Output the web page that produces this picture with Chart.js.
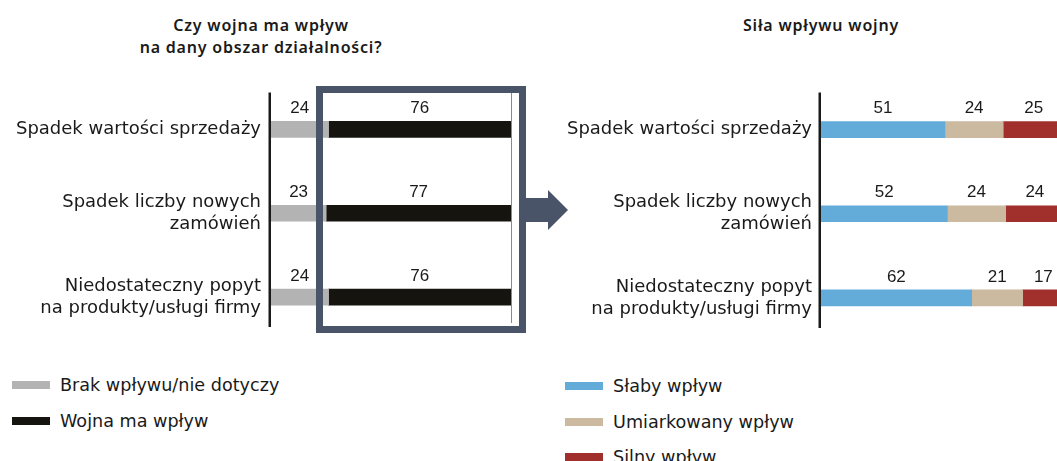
<!DOCTYPE html>
<html>
<head>
<meta charset="utf-8">
<script src="https://cdn.jsdelivr.net/npm/chart.js@4.4.1/dist/chart.umd.min.js"></script>
<style>
  html, body { margin:0; padding:0; background:#fff; }
  #wrap { position:relative; width:1057px; height:461px; overflow:hidden; font-family:"Noto Sans", sans-serif; color:#1a1a1a; }
  canvas { position:absolute; }
  .title { position:absolute; font-size:16px; font-weight:600; letter-spacing:0.8px; text-align:center; line-height:22px; white-space:nowrap; }
  .legend { position:absolute; font-family:"DejaVu Sans", sans-serif; font-size:17.6px; }
  .legend .item { position:absolute; left:0; white-space:nowrap; height:20px; line-height:20px; }
  .legend .sw { position:absolute; left:0; top:6px; width:38px; height:8px; }
  .legend .tx { position:absolute; top:0; }
  #box { position:absolute; left:316px; top:86px; width:210px; height:247px; border:7px solid #4a5469; box-sizing:border-box; }
  #arrow { position:absolute; left:520px; top:185px; }
</style>
</head>
<body>
<div id="wrap">
  <div class="title" style="left:61px;width:400px;top:14px;">Czy wojna ma wpływ<br>na dany obszar działalności?</div>
  <div class="title" style="left:621px;width:400px;top:14px;">Siła wpływu wojny</div>
  <canvas id="c1" width="530" height="360" style="left:0;top:0;"></canvas>
  <canvas id="c2" width="520" height="360" style="left:560px;top:0;"></canvas>
  <div id="box"></div>
  <svg id="arrow" width="60" height="50"><polygon points="6,13 28,13 28,5 48,25 28,45 28,37 6,37" fill="#4a5469"/></svg>
  <div class="legend" id="leg1" style="left:12px;top:375px;"></div>
  <div class="legend" id="leg2" style="left:565px;top:376px;"></div>
</div>
<script>
// ---- data ----
const categories = [
  ["Spadek wartości sprzedaży"],
  ["Spadek liczby nowych", "zamówień"],
  ["Niedostateczny popyt", "na produkty/usługi firmy"]
];
const leftSeriesNames = ["Brak wpływu/nie dotyczy", "Wojna ma wpływ"];
const brakWplywu = [24, 23, 24];
const wojnaMaWplyw = [76, 77, 76];

const rightSeriesNames = ["Słaby wpływ", "Umiarkowany wpływ", "Silny wpływ"];
const slaby = [51, 52, 62];
const umiarkowany = [24, 24, 21];
const silny = [25, 24, 17];

const leftColors = ["#b3b3b3", "#16140f"];
const rightColors = ["#63acd9", "#cbb9a0", "#a1302d"];

const valueLabels = {
  id: 'valueLabels',
  afterDatasetsDraw(chart, args, opts) {
    const ctx = chart.ctx;
    ctx.save();
    ctx.font = '17px "Liberation Sans", Arial, sans-serif';
    ctx.fillStyle = '#1a1a1a';
    ctx.textAlign = 'center';
    ctx.textBaseline = 'middle';
    chart.data.datasets.forEach((ds, di) => {
      const meta = chart.getDatasetMeta(di);
      meta.data.forEach((bar, i) => {
        const cx = (bar.x + bar.base) / 2;
        ctx.fillText(String(ds.data[i]), cx, bar.y - 21);
      });
    });
    ctx.restore();
  },
  afterDraw(chart, args, opts) {
    const ctx = chart.ctx;
    const a = chart.chartArea;
    ctx.save();
    ctx.strokeStyle = '#1a1a1a';
    ctx.lineWidth = 2.5;
    ctx.beginPath();
    ctx.moveTo(a.left - 1.25, a.top + 5);
    ctx.lineTo(a.left - 1.25, a.bottom - 12);
    ctx.stroke();
    if (opts.endLine) {
      const x = chart.scales.x.getPixelForValue(100);
      ctx.strokeStyle = '#8a8a8a';
      ctx.lineWidth = 1;
      ctx.beginPath();
      ctx.moveTo(x + 0.5, a.top + 5);
      ctx.lineTo(x + 0.5, a.bottom - 16);
      ctx.stroke();
    }
    ctx.restore();
  }
};

function makeChart(id, datasets, yWidth, padRight, endLine, tickPad) {
  return new Chart(document.getElementById(id), {
    type: 'bar',
    data: { labels: categories, datasets },
    options: {
      indexAxis: 'y',
      responsive: false,
      animation: false,
      layout: { padding: { top: 87.5, bottom: 17.5, left: 0, right: padRight } },
      plugins: { legend: { display: false }, tooltip: { enabled: false }, valueLabels: { endLine } },
      scales: {
        x: { stacked: true, min: 0, max: 100, display: false },
        y: {
          stacked: true,
          grid: { display: false, drawTicks: false },
          border: { display: false },
          ticks: { padding: tickPad, color: '#1a1a1a', font: { family: '"DejaVu Sans", sans-serif', size: 18, lineHeight: 1.22 } },
          afterFit(scale) { scale.width = yWidth; }
        }
      }
    },
    plugins: [valueLabels]
  });
}

makeChart('c1', [
  { label: leftSeriesNames[0], data: brakWplywu, backgroundColor: leftColors[0], barThickness: 16 },
  { label: leftSeriesNames[1], data: wojnaMaWplyw, backgroundColor: leftColors[1], barThickness: 16 }
], 271, 19, true, 10);

makeChart('c2', [
  { label: rightSeriesNames[0], data: slaby, backgroundColor: rightColors[0], barThickness: 16 },
  { label: rightSeriesNames[1], data: umiarkowany, backgroundColor: rightColors[1], barThickness: 16 },
  { label: rightSeriesNames[2], data: silny, backgroundColor: rightColors[2], barThickness: 16 }
], 261, 16, false, 9);

function buildLegend(elId, names, colors) {
  const el = document.getElementById(elId);
  names.forEach((n, i) => {
    const it = document.createElement('div');
    it.className = 'item';
    it.style.top = (i * 35.5) + 'px';
    it.innerHTML = '<span class="sw" style="background:' + colors[i] + '"></span><span class="tx" style="left:48px">' + n + '</span>';
    el.appendChild(it);
  });
}
buildLegend('leg1', leftSeriesNames, leftColors);
buildLegend('leg2', rightSeriesNames, rightColors);
</script>
</body>
</html>
